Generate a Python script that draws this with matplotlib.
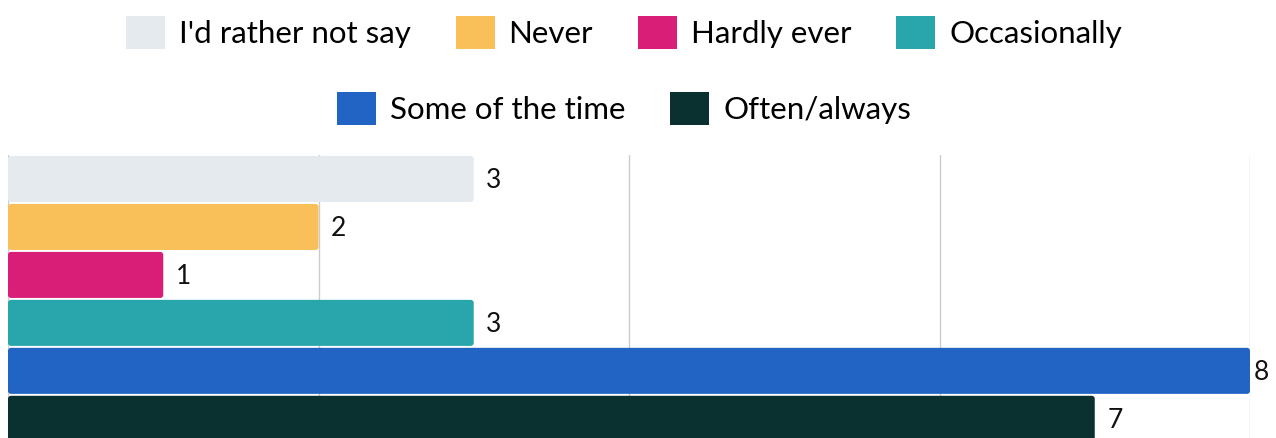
import matplotlib
matplotlib.use("Agg")
import matplotlib.pyplot as plt
from matplotlib.patches import Patch, FancyBboxPatch

plt.rcParams["font.family"] = ["Lato", "DejaVu Sans"]

# --- data ---
categories = ["I'd rather not say", "Never", "Hardly ever", "Occasionally",
              "Some of the time", "Often/always"]
values = [3, 2, 1, 3, 8, 7]
colors = ["#E5EAEE", "#F9BF58", "#D81E77", "#29A6AB", "#2264C4", "#0A3130"]
x_ticks = [0, 2, 4, 6, 8]

fig = plt.figure(figsize=(12.76, 4.38), dpi=100)
ax = fig.add_axes([8 / 1276, 0, 1242 / 1276, 1 - 155 / 438])

ypos = list(range(len(values)))
bars = ax.barh(ypos, values, height=0.96, color=colors, zorder=2)

# swap plain rectangles for slightly rounded ones
px_x = 8 / 1242          # data units per pixel in x
px_y = 5.9 / 283         # data units per pixel in y
for rect, c in zip(bars.patches, colors):
    x0, y0 = rect.get_x(), rect.get_y()
    w, h = rect.get_width(), rect.get_height()
    rect.set_visible(False)
    ax.add_patch(FancyBboxPatch((x0, y0), w, h,
                                boxstyle=f"round,pad=0,rounding_size={3 * px_x}",
                                mutation_aspect=px_y / px_x,
                                facecolor=c, edgecolor="none", zorder=2))

# value labels (the longest bar's label is pulled in so it stays on the canvas)
for y, v in zip(ypos, values):
    off = 3 if v == max(values) else 9
    ax.annotate(str(v), (v, y), xytext=(off, -1), textcoords="offset points",
                va="center", ha="left", fontsize=19, color="#111111",
                annotation_clip=False)

ax.set_xlim(0, 8)
ax.set_ylim(5.4, -0.5)
ax.set_xticks(x_ticks)
ax.set_yticks([])
ax.xaxis.grid(True, color="#cccccc", linewidth=1, zorder=0)
ax.tick_params(axis="x", length=0, labelbottom=False)
for s in ax.spines.values():
    s.set_visible(False)

# legend in two rows
handles = [Patch(facecolor=c, edgecolor="none") for c in colors]
leg_kw = dict(frameon=False, fontsize=22.5, handlelength=1.25, handleheight=1.25,
              handletextpad=0.44, columnspacing=1.44, borderaxespad=0)
fig.legend(handles[:4], categories[:4], ncol=4, loc="center",
           bbox_to_anchor=(0.489, 0.925), **leg_kw)
fig.legend(handles[4:], categories[4:], ncol=2, loc="center",
           bbox_to_anchor=(0.489, 0.753), **leg_kw)

fig.savefig("out.png", dpi=100)
